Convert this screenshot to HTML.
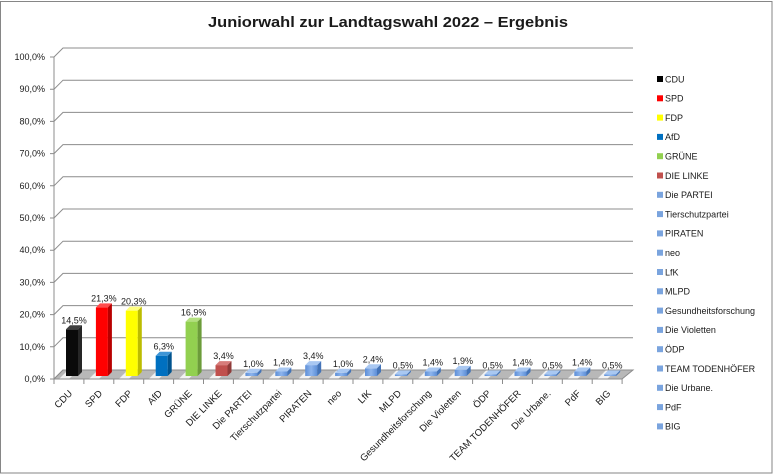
<!DOCTYPE html>
<html><head><meta charset="utf-8"><style>
html,body{margin:0;padding:0;background:#fff;}
svg{display:block;}
text{font-family:"Liberation Sans",Arial,sans-serif;fill:#1a1a1a;}
</style></head><body>
<svg width="777" height="475" viewBox="0 0 777 475" xmlns="http://www.w3.org/2000/svg">
<defs>
<pattern id="fl" patternUnits="userSpaceOnUse" width="29.9" height="10" x="54" y="370">
<rect width="29.9" height="10" fill="#b8b8b8"/>
<polygon points="4,10 14,10 24,0 14,0" fill="#f2f2f2"/>
</pattern>
<linearGradient id="bl" x1="0" x2="1" y1="0" y2="0"><stop offset="0" stop-color="#5d8fd8"/><stop offset="0.5" stop-color="#8db4ec"/><stop offset="1" stop-color="#5d8fd8"/></linearGradient>
</defs>
<rect x="0.5" y="1.5" width="771.5" height="471.5" fill="#fff" stroke="#868686" stroke-width="1"/>
<text x="388" y="27" text-anchor="middle" font-size="15" font-weight="bold" textLength="360" lengthAdjust="spacingAndGlyphs">Juniorwahl zur Landtagswahl 2022 – Ergebnis</text>

<g stroke="#8c8c8c" stroke-width="1" fill="none">
<line x1="54" y1="57" x2="54" y2="379"/>
<path d="M50 379H54L63 370H633"/>
<path d="M50 346.8H54L63 337.8H633"/>
<path d="M50 314.6H54L63 305.6H633"/>
<path d="M50 282.4H54L63 273.4H633"/>
<path d="M50 250.2H54L63 241.2H633"/>
<path d="M50 218H54L63 209H633"/>
<path d="M50 185.8H54L63 176.8H633"/>
<path d="M50 153.6H54L63 144.6H633"/>
<path d="M50 121.4H54L63 112.4H633"/>
<path d="M50 89.2H54L63 80.2H633"/>
<path d="M50 57H54L63 48H633"/>
</g>
<g font-size="9" text-anchor="end">
<text x="45" y="382">0,0%</text>
<text x="45" y="349.8">10,0%</text>
<text x="45" y="317.6">20,0%</text>
<text x="45" y="285.4">30,0%</text>
<text x="45" y="253.2">40,0%</text>
<text x="45" y="221">50,0%</text>
<text x="45" y="188.8">60,0%</text>
<text x="45" y="156.6">70,0%</text>
<text x="45" y="124.4">80,0%</text>
<text x="45" y="92.2">90,0%</text>
<text x="45" y="60">100,0%</text>
</g>

<polygon points="54,379 622,379 633,370 63,370" fill="url(#fl)" stroke="#8c8c8c" stroke-width="1"/>
<g stroke="#8c8c8c" stroke-width="1">
<line x1="54" y1="379" x2="54" y2="384"/><line x1="83.9" y1="379" x2="83.9" y2="384"/><line x1="113.8" y1="379" x2="113.8" y2="384"/><line x1="143.7" y1="379" x2="143.7" y2="384"/><line x1="173.6" y1="379" x2="173.6" y2="384"/><line x1="203.5" y1="379" x2="203.5" y2="384"/><line x1="233.4" y1="379" x2="233.4" y2="384"/><line x1="263.3" y1="379" x2="263.3" y2="384"/><line x1="293.2" y1="379" x2="293.2" y2="384"/><line x1="323.1" y1="379" x2="323.1" y2="384"/><line x1="353" y1="379" x2="353" y2="384"/><line x1="382.9" y1="379" x2="382.9" y2="384"/><line x1="412.8" y1="379" x2="412.8" y2="384"/><line x1="442.7" y1="379" x2="442.7" y2="384"/><line x1="472.6" y1="379" x2="472.6" y2="384"/><line x1="502.5" y1="379" x2="502.5" y2="384"/><line x1="532.4" y1="379" x2="532.4" y2="384"/><line x1="562.3" y1="379" x2="562.3" y2="384"/><line x1="592.2" y1="379" x2="592.2" y2="384"/><line x1="622.1" y1="379" x2="622.1" y2="384"/>
</g>

<!-- bars -->
<g transform="translate(66,329.3)"><rect width="12" height="46.7" fill="#0a0a0a"/><polygon points="0,0 12,0 16,-4 4,-4" fill="#404040"/><polygon points="12,0 16,-4 16,42.7 12,46.7" fill="#262626"/></g>
<g transform="translate(95.9,307.4)"><rect width="12" height="68.6" fill="#ff0000"/><polygon points="0,0 12,0 16,-4 4,-4" fill="#ff4d4d"/><polygon points="12,0 16,-4 16,64.6 12,68.6" fill="#b80000"/></g>
<g transform="translate(125.8,310.6)"><rect width="12" height="65.4" fill="#ffff00"/><polygon points="0,0 12,0 16,-4 4,-4" fill="#ffff80"/><polygon points="12,0 16,-4 16,61.4 12,65.4" fill="#bcbc00"/></g>
<g transform="translate(155.7,355.7)"><rect width="12" height="20.3" fill="#0070c0"/><polygon points="0,0 12,0 16,-4 4,-4" fill="#3d95d6"/><polygon points="12,0 16,-4 16,16.3 12,20.3" fill="#00538e"/></g>
<g transform="translate(185.6,321.6)"><rect width="12" height="54.4" fill="#92d050"/><polygon points="0,0 12,0 16,-4 4,-4" fill="#b3e07f"/><polygon points="12,0 16,-4 16,50.4 12,54.4" fill="#6c9c3a"/></g>
<g transform="translate(215.5,365.1)"><rect width="12" height="10.9" fill="#c0504d"/><polygon points="0,0 12,0 16,-4 4,-4" fill="#d77c7a"/><polygon points="12,0 16,-4 16,6.9 12,10.9" fill="#8f3b39"/></g>
<g transform="translate(245.4,372.8)"><rect width="12" height="3.2" fill="url(#bl)"/><polygon points="0,0 12,0 16,-4 4,-4" fill="#a9c8f2"/><polygon points="12,0 16,-4 16,-0.8 12,3.2" fill="#4474b8"/></g>
<g transform="translate(275.3,371.5)"><rect width="12" height="4.5" fill="url(#bl)"/><polygon points="0,0 12,0 16,-4 4,-4" fill="#a9c8f2"/><polygon points="12,0 16,-4 16,0.5 12,4.5" fill="#4474b8"/></g>
<g transform="translate(305.2,365.1)"><rect width="12" height="10.9" fill="url(#bl)"/><polygon points="0,0 12,0 16,-4 4,-4" fill="#a9c8f2"/><polygon points="12,0 16,-4 16,6.9 12,10.9" fill="#4474b8"/></g>
<g transform="translate(335.1,372.8)"><rect width="12" height="3.2" fill="url(#bl)"/><polygon points="0,0 12,0 16,-4 4,-4" fill="#a9c8f2"/><polygon points="12,0 16,-4 16,-0.8 12,3.2" fill="#4474b8"/></g>
<g transform="translate(365,368.3)"><rect width="12" height="7.7" fill="url(#bl)"/><polygon points="0,0 12,0 16,-4 4,-4" fill="#a9c8f2"/><polygon points="12,0 16,-4 16,3.7 12,7.7" fill="#4474b8"/></g>
<g transform="translate(394.9,374.4)"><rect width="12" height="1.6" fill="url(#bl)"/><polygon points="0,0 12,0 16,-4 4,-4" fill="#a9c8f2"/><polygon points="12,0 16,-4 16,-2.4 12,1.6" fill="#4474b8"/></g>
<g transform="translate(424.8,371.5)"><rect width="12" height="4.5" fill="url(#bl)"/><polygon points="0,0 12,0 16,-4 4,-4" fill="#a9c8f2"/><polygon points="12,0 16,-4 16,0.5 12,4.5" fill="#4474b8"/></g>
<g transform="translate(454.7,369.9)"><rect width="12" height="6.1" fill="url(#bl)"/><polygon points="0,0 12,0 16,-4 4,-4" fill="#a9c8f2"/><polygon points="12,0 16,-4 16,2.1 12,6.1" fill="#4474b8"/></g>
<g transform="translate(484.6,374.4)"><rect width="12" height="1.6" fill="url(#bl)"/><polygon points="0,0 12,0 16,-4 4,-4" fill="#a9c8f2"/><polygon points="12,0 16,-4 16,-2.4 12,1.6" fill="#4474b8"/></g>
<g transform="translate(514.5,371.5)"><rect width="12" height="4.5" fill="url(#bl)"/><polygon points="0,0 12,0 16,-4 4,-4" fill="#a9c8f2"/><polygon points="12,0 16,-4 16,0.5 12,4.5" fill="#4474b8"/></g>
<g transform="translate(544.4,374.4)"><rect width="12" height="1.6" fill="url(#bl)"/><polygon points="0,0 12,0 16,-4 4,-4" fill="#a9c8f2"/><polygon points="12,0 16,-4 16,-2.4 12,1.6" fill="#4474b8"/></g>
<g transform="translate(574.3,371.5)"><rect width="12" height="4.5" fill="url(#bl)"/><polygon points="0,0 12,0 16,-4 4,-4" fill="#a9c8f2"/><polygon points="12,0 16,-4 16,0.5 12,4.5" fill="#4474b8"/></g>
<g transform="translate(604.2,374.4)"><rect width="12" height="1.6" fill="url(#bl)"/><polygon points="0,0 12,0 16,-4 4,-4" fill="#a9c8f2"/><polygon points="12,0 16,-4 16,-2.4 12,1.6" fill="#4474b8"/></g>

<!-- data labels -->
<g font-size="9" text-anchor="middle">
<text x="74" y="323.3">14,5%</text>
<text x="103.9" y="301.4">21,3%</text>
<text x="133.8" y="304.6">20,3%</text>
<text x="163.7" y="349.7">6,3%</text>
<text x="193.6" y="315.6">16,9%</text>
<text x="223.5" y="359.1">3,4%</text>
<text x="253.4" y="366.8">1,0%</text>
<text x="283.3" y="365.5">1,4%</text>
<text x="313.2" y="359.1">3,4%</text>
<text x="343.1" y="366.8">1,0%</text>
<text x="373" y="362.3">2,4%</text>
<text x="402.9" y="368.4">0,5%</text>
<text x="432.8" y="365.5">1,4%</text>
<text x="462.7" y="363.9">1,9%</text>
<text x="492.6" y="368.4">0,5%</text>
<text x="522.5" y="365.5">1,4%</text>
<text x="552.4" y="368.4">0,5%</text>
<text x="582.3" y="365.5">1,4%</text>
<text x="612.2" y="368.4">0,5%</text>
</g>

<!-- category labels -->
<g font-size="9.6" text-anchor="end">
<text transform="translate(72.95,394) rotate(-45)">CDU</text>
<text transform="translate(102.85,394) rotate(-45)">SPD</text>
<text transform="translate(132.75,394) rotate(-45)">FDP</text>
<text transform="translate(162.65,394) rotate(-45)">AfD</text>
<text transform="translate(192.55,394) rotate(-45)">GRÜNE</text>
<text transform="translate(222.45,394) rotate(-45)">DIE LINKE</text>
<text transform="translate(252.35,394) rotate(-45)">Die PARTEI</text>
<text transform="translate(282.25,394) rotate(-45)">Tierschutzpartei</text>
<text transform="translate(312.15,394) rotate(-45)">PIRATEN</text>
<text transform="translate(342.05,394) rotate(-45)">neo</text>
<text transform="translate(371.95,394) rotate(-45)">LfK</text>
<text transform="translate(401.85,394) rotate(-45)">MLPD</text>
<text transform="translate(431.75,394) rotate(-45)">Gesundheitsforschung</text>
<text transform="translate(461.65,394) rotate(-45)">Die Violetten</text>
<text transform="translate(491.55,394) rotate(-45)">ÖDP</text>
<text transform="translate(521.45,394) rotate(-45)">TEAM TODENHÖFER</text>
<text transform="translate(551.35,394) rotate(-45)">Die Urbane.</text>
<text transform="translate(581.25,394) rotate(-45)">PdF</text>
<text transform="translate(611.15,394) rotate(-45)">BIG</text>
</g>

<!-- legend -->
<g>
<rect x="657" y="76" width="6" height="6" fill="#000"/>
<rect x="657" y="95.3" width="6" height="6" fill="#ff0000"/>
<rect x="657" y="114.6" width="6" height="6" fill="#ffff00"/>
<rect x="657" y="133.9" width="6" height="6" fill="#0070c0"/>
<rect x="657" y="153.2" width="6" height="6" fill="#92d050"/>
<rect x="657" y="172.5" width="6" height="6" fill="#c0504d"/>
<rect x="657" y="191.8" width="6" height="6" fill="#7aa4de"/>
<rect x="657" y="211.1" width="6" height="6" fill="#7aa4de"/>
<rect x="657" y="230.4" width="6" height="6" fill="#7aa4de"/>
<rect x="657" y="249.7" width="6" height="6" fill="#7aa4de"/>
<rect x="657" y="269" width="6" height="6" fill="#7aa4de"/>
<rect x="657" y="288.3" width="6" height="6" fill="#7aa4de"/>
<rect x="657" y="307.6" width="6" height="6" fill="#7aa4de"/>
<rect x="657" y="326.9" width="6" height="6" fill="#7aa4de"/>
<rect x="657" y="346.2" width="6" height="6" fill="#7aa4de"/>
<rect x="657" y="365.5" width="6" height="6" fill="#7aa4de"/>
<rect x="657" y="384.8" width="6" height="6" fill="#7aa4de"/>
<rect x="657" y="404.1" width="6" height="6" fill="#7aa4de"/>
<rect x="657" y="423.4" width="6" height="6" fill="#7aa4de"/>
</g>
<g font-size="9">
<text x="665" y="82.3">CDU</text>
<text x="665" y="101.6">SPD</text>
<text x="665" y="120.9">FDP</text>
<text x="665" y="140.2">AfD</text>
<text x="665" y="159.5">GRÜNE</text>
<text x="665" y="178.8">DIE LINKE</text>
<text x="665" y="198.1">Die PARTEI</text>
<text x="665" y="217.4">Tierschutzpartei</text>
<text x="665" y="236.7">PIRATEN</text>
<text x="665" y="256">neo</text>
<text x="665" y="275.3">LfK</text>
<text x="665" y="294.6">MLPD</text>
<text x="665" y="313.9">Gesundheitsforschung</text>
<text x="665" y="333.2">Die Violetten</text>
<text x="665" y="352.5">ÖDP</text>
<text x="665" y="371.8">TEAM TODENHÖFER</text>
<text x="665" y="391.1">Die Urbane.</text>
<text x="665" y="410.4">PdF</text>
<text x="665" y="429.7">BIG</text>
</g>
</svg>
</body></html>
